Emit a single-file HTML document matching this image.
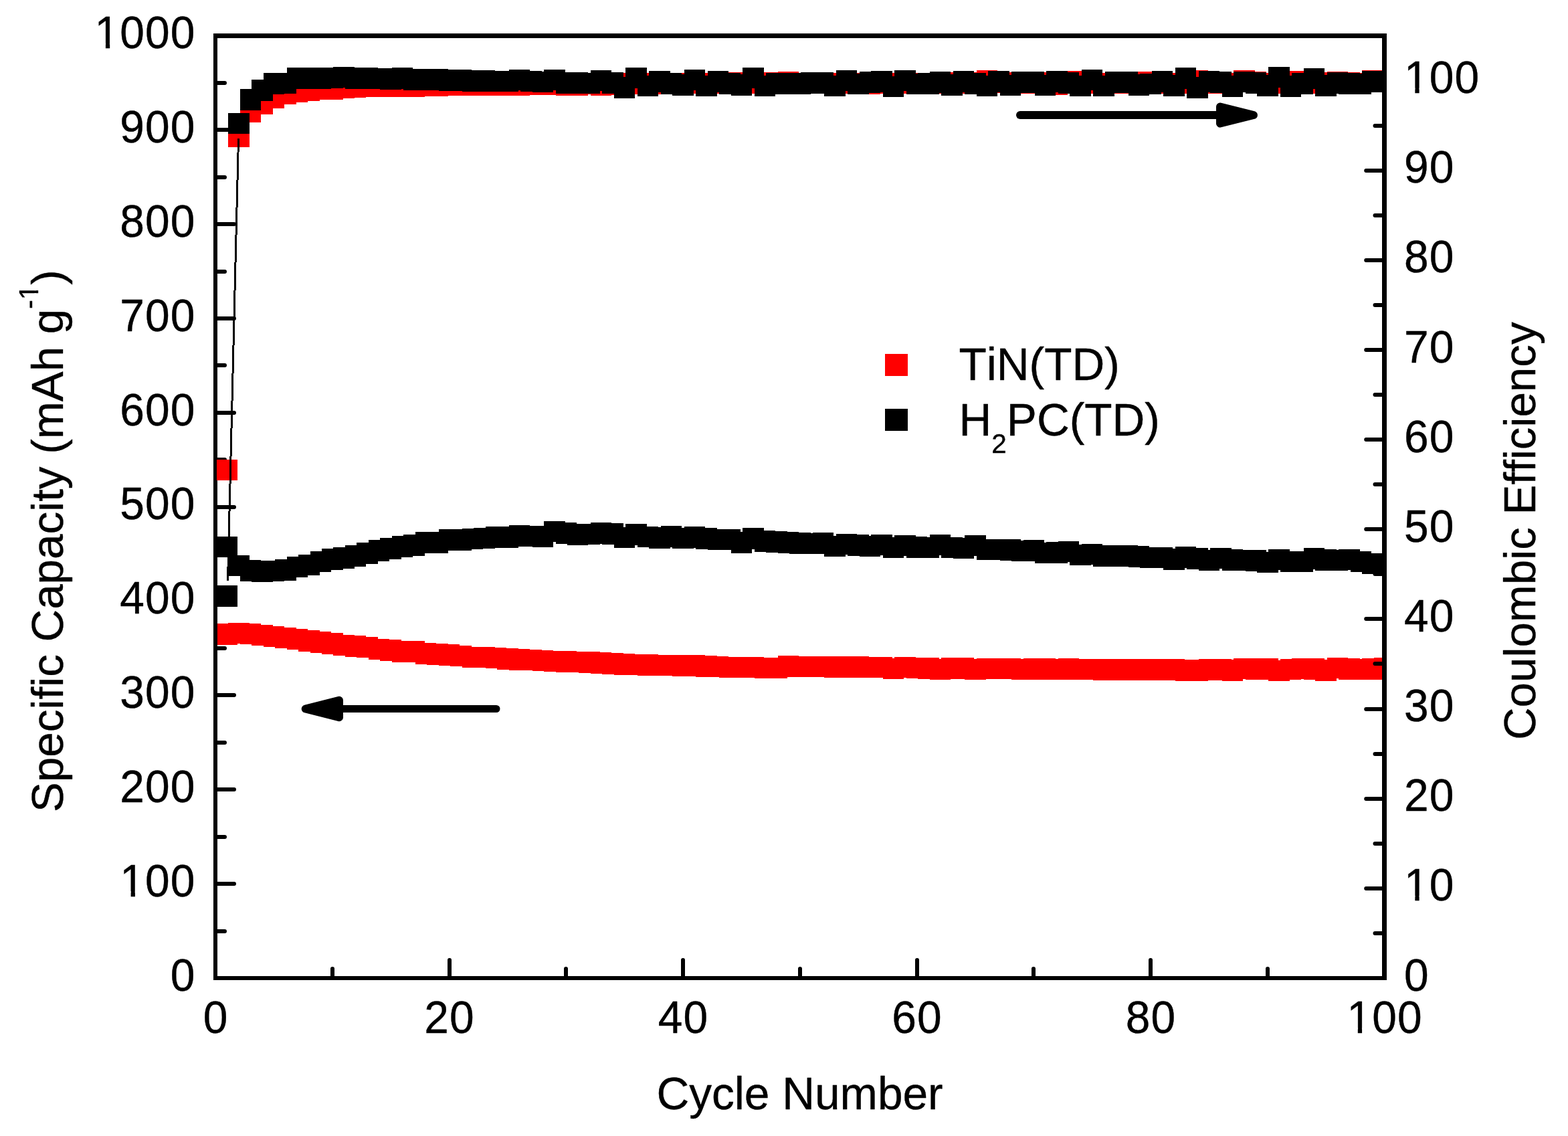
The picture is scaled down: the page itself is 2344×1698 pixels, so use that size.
<!DOCTYPE html>
<html lang="en"><head><meta charset="utf-8"><title>Cycling performance</title>
<style>html,body{margin:0;padding:0;background:#fff}svg{display:block}</style></head>
<body>
<svg width="2344" height="1698" viewBox="0 0 2344 1698" font-family='"Liberation Sans", sans-serif' font-size="67.6" fill="#000" style="font-kerning:none;font-variant-ligatures:none">
<style>text{stroke:#000;stroke-width:0.4px;stroke-linejoin:round}</style>
<rect width="2344" height="1698" fill="#fff"/>
<defs><clipPath id="plot"><rect x="322" y="53.5" width="1747.5" height="1408.5"/></clipPath><clipPath id="plot2"><rect x="319" y="53.5" width="1750.5" height="1408.5"/></clipPath></defs>
<g clip-path="url(#plot)" shape-rendering="crispEdges">
<g fill="#f00"><rect x="323.73" y="932.3" width="31.5" height="31.5"/><rect x="341.2" y="930.71" width="31.5" height="31.5"/><rect x="358.68" y="931.71" width="31.5" height="31.5"/><rect x="376.15" y="933.69" width="31.5" height="31.5"/><rect x="393.62" y="935.67" width="31.5" height="31.5"/><rect x="411.1" y="937.66" width="31.5" height="31.5"/><rect x="428.57" y="939.64" width="31.5" height="31.5"/><rect x="446.05" y="942.22" width="31.5" height="31.5"/><rect x="463.52" y="944.21" width="31.5" height="31.5"/><rect x="481" y="946.19" width="31.5" height="31.5"/><rect x="498.48" y="948.57" width="31.5" height="31.5"/><rect x="515.95" y="950.16" width="31.5" height="31.5"/><rect x="533.42" y="951.55" width="31.5" height="31.5"/><rect x="550.9" y="954.52" width="31.5" height="31.5"/><rect x="568.38" y="956.11" width="31.5" height="31.5"/><rect x="585.85" y="958.49" width="31.5" height="31.5"/><rect x="603.33" y="958.49" width="31.5" height="31.5"/><rect x="620.8" y="961.47" width="31.5" height="31.5"/><rect x="638.27" y="962.46" width="31.5" height="31.5"/><rect x="655.75" y="963.45" width="31.5" height="31.5"/><rect x="673.23" y="964.84" width="31.5" height="31.5"/><rect x="690.7" y="966.83" width="31.5" height="31.5"/><rect x="708.17" y="966.83" width="31.5" height="31.5"/><rect x="725.65" y="967.82" width="31.5" height="31.5"/><rect x="743.12" y="969.4" width="31.5" height="31.5"/><rect x="760.6" y="970" width="31.5" height="31.5"/><rect x="778.08" y="970.99" width="31.5" height="31.5"/><rect x="795.55" y="971.98" width="31.5" height="31.5"/><rect x="813.02" y="972.78" width="31.5" height="31.5"/><rect x="830.5" y="973.37" width="31.5" height="31.5"/><rect x="847.98" y="973.97" width="31.5" height="31.5"/><rect x="865.45" y="974.37" width="31.5" height="31.5"/><rect x="882.92" y="975.36" width="31.5" height="31.5"/><rect x="900.4" y="976.35" width="31.5" height="31.5"/><rect x="917.88" y="977.14" width="31.5" height="31.5"/><rect x="935.35" y="977.74" width="31.5" height="31.5"/><rect x="952.83" y="978.33" width="31.5" height="31.5"/><rect x="970.3" y="978.73" width="31.5" height="31.5"/><rect x="987.77" y="978.73" width="31.5" height="31.5"/><rect x="1005.25" y="979.33" width="31.5" height="31.5"/><rect x="1022.72" y="979.33" width="31.5" height="31.5"/><rect x="1040.2" y="980.32" width="31.5" height="31.5"/><rect x="1057.67" y="980.71" width="31.5" height="31.5"/><rect x="1075.15" y="981.51" width="31.5" height="31.5"/><rect x="1092.62" y="981.9" width="31.5" height="31.5"/><rect x="1110.1" y="981.9" width="31.5" height="31.5"/><rect x="1127.58" y="982.9" width="31.5" height="31.5"/><rect x="1145.05" y="982.7" width="31.5" height="31.5"/><rect x="1162.53" y="980.32" width="31.5" height="31.5"/><rect x="1180" y="980.71" width="31.5" height="31.5"/><rect x="1197.47" y="980.91" width="31.5" height="31.5"/><rect x="1214.95" y="980.91" width="31.5" height="31.5"/><rect x="1232.42" y="981.11" width="31.5" height="31.5"/><rect x="1249.9" y="981.11" width="31.5" height="31.5"/><rect x="1267.38" y="981.31" width="31.5" height="31.5"/><rect x="1284.85" y="981.51" width="31.5" height="31.5"/><rect x="1302.33" y="981.51" width="31.5" height="31.5"/><rect x="1319.8" y="983.89" width="31.5" height="31.5"/><rect x="1337.28" y="981.9" width="31.5" height="31.5"/><rect x="1354.75" y="982.7" width="31.5" height="31.5"/><rect x="1372.22" y="983.29" width="31.5" height="31.5"/><rect x="1389.7" y="984.68" width="31.5" height="31.5"/><rect x="1407.17" y="983.49" width="31.5" height="31.5"/><rect x="1424.65" y="983.49" width="31.5" height="31.5"/><rect x="1442.12" y="984.68" width="31.5" height="31.5"/><rect x="1459.6" y="983.69" width="31.5" height="31.5"/><rect x="1477.08" y="983.89" width="31.5" height="31.5"/><rect x="1494.55" y="983.89" width="31.5" height="31.5"/><rect x="1512.03" y="984.68" width="31.5" height="31.5"/><rect x="1529.5" y="984.09" width="31.5" height="31.5"/><rect x="1546.97" y="984.29" width="31.5" height="31.5"/><rect x="1564.45" y="984.68" width="31.5" height="31.5"/><rect x="1581.92" y="984.48" width="31.5" height="31.5"/><rect x="1599.4" y="984.68" width="31.5" height="31.5"/><rect x="1616.88" y="984.68" width="31.5" height="31.5"/><rect x="1634.35" y="985.08" width="31.5" height="31.5"/><rect x="1651.83" y="985.08" width="31.5" height="31.5"/><rect x="1669.3" y="985.08" width="31.5" height="31.5"/><rect x="1686.78" y="985.08" width="31.5" height="31.5"/><rect x="1704.25" y="985.08" width="31.5" height="31.5"/><rect x="1721.72" y="985.08" width="31.5" height="31.5"/><rect x="1739.2" y="985.08" width="31.5" height="31.5"/><rect x="1756.67" y="986.27" width="31.5" height="31.5"/><rect x="1774.15" y="986.27" width="31.5" height="31.5"/><rect x="1791.62" y="985.28" width="31.5" height="31.5"/><rect x="1809.1" y="985.08" width="31.5" height="31.5"/><rect x="1826.58" y="986.27" width="31.5" height="31.5"/><rect x="1844.05" y="983.89" width="31.5" height="31.5"/><rect x="1861.53" y="984.29" width="31.5" height="31.5"/><rect x="1879" y="984.29" width="31.5" height="31.5"/><rect x="1896.47" y="986.67" width="31.5" height="31.5"/><rect x="1913.95" y="984.88" width="31.5" height="31.5"/><rect x="1931.42" y="983.89" width="31.5" height="31.5"/><rect x="1948.9" y="984.29" width="31.5" height="31.5"/><rect x="1966.38" y="986.27" width="31.5" height="31.5"/><rect x="1983.85" y="982.9" width="31.5" height="31.5"/><rect x="2001.33" y="984.29" width="31.5" height="31.5"/><rect x="2018.8" y="984.68" width="31.5" height="31.5"/><rect x="2036.28" y="984.29" width="31.5" height="31.5"/><rect x="2053.75" y="982.9" width="31.5" height="31.5"/></g>
<g fill="#000"><rect x="323.73" y="801.75" width="31.5" height="31.5"/><rect x="341.2" y="829.92" width="31.5" height="31.5"/><rect x="358.68" y="837.06" width="31.5" height="31.5"/><rect x="376.15" y="838.45" width="31.5" height="31.5"/><rect x="393.62" y="837.86" width="31.5" height="31.5"/><rect x="411.1" y="836.47" width="31.5" height="31.5"/><rect x="428.57" y="831.9" width="31.5" height="31.5"/><rect x="446.05" y="828.93" width="31.5" height="31.5"/><rect x="463.52" y="823.57" width="31.5" height="31.5"/><rect x="481" y="820" width="31.5" height="31.5"/><rect x="498.48" y="818.02" width="31.5" height="31.5"/><rect x="515.95" y="815.24" width="31.5" height="31.5"/><rect x="533.42" y="811.07" width="31.5" height="31.5"/><rect x="550.9" y="807.1" width="31.5" height="31.5"/><rect x="568.38" y="804.13" width="31.5" height="31.5"/><rect x="585.85" y="801.15" width="31.5" height="31.5"/><rect x="603.33" y="799.17" width="31.5" height="31.5"/><rect x="620.8" y="795.2" width="31.5" height="31.5"/><rect x="638.27" y="795.2" width="31.5" height="31.5"/><rect x="655.75" y="791.43" width="31.5" height="31.5"/><rect x="673.23" y="791.43" width="31.5" height="31.5"/><rect x="690.7" y="789.84" width="31.5" height="31.5"/><rect x="708.17" y="788.85" width="31.5" height="31.5"/><rect x="725.65" y="787.26" width="31.5" height="31.5"/><rect x="743.12" y="787.26" width="31.5" height="31.5"/><rect x="760.6" y="785.28" width="31.5" height="31.5"/><rect x="778.08" y="785.87" width="31.5" height="31.5"/><rect x="795.55" y="786.27" width="31.5" height="31.5"/><rect x="813.02" y="778.93" width="31.5" height="31.5"/><rect x="830.5" y="781.31" width="31.5" height="31.5"/><rect x="847.98" y="783.29" width="31.5" height="31.5"/><rect x="865.45" y="782.9" width="31.5" height="31.5"/><rect x="882.92" y="781.31" width="31.5" height="31.5"/><rect x="900.4" y="782.3" width="31.5" height="31.5"/><rect x="917.88" y="787.66" width="31.5" height="31.5"/><rect x="935.35" y="783.29" width="31.5" height="31.5"/><rect x="952.83" y="786.67" width="31.5" height="31.5"/><rect x="970.3" y="788.25" width="31.5" height="31.5"/><rect x="987.77" y="786.27" width="31.5" height="31.5"/><rect x="1005.25" y="788.65" width="31.5" height="31.5"/><rect x="1022.72" y="787.26" width="31.5" height="31.5"/><rect x="1040.2" y="789.25" width="31.5" height="31.5"/><rect x="1057.67" y="790.83" width="31.5" height="31.5"/><rect x="1075.15" y="790.83" width="31.5" height="31.5"/><rect x="1092.62" y="795" width="31.5" height="31.5"/><rect x="1110.1" y="789.25" width="31.5" height="31.5"/><rect x="1127.58" y="793.21" width="31.5" height="31.5"/><rect x="1145.05" y="794.21" width="31.5" height="31.5"/><rect x="1162.53" y="795.2" width="31.5" height="31.5"/><rect x="1180" y="796.19" width="31.5" height="31.5"/><rect x="1197.47" y="796.79" width="31.5" height="31.5"/><rect x="1214.95" y="796.19" width="31.5" height="31.5"/><rect x="1232.42" y="800.56" width="31.5" height="31.5"/><rect x="1249.9" y="797.78" width="31.5" height="31.5"/><rect x="1267.38" y="799.17" width="31.5" height="31.5"/><rect x="1284.85" y="800.56" width="31.5" height="31.5"/><rect x="1302.33" y="798.77" width="31.5" height="31.5"/><rect x="1319.8" y="802.94" width="31.5" height="31.5"/><rect x="1337.28" y="799.76" width="31.5" height="31.5"/><rect x="1354.75" y="802.34" width="31.5" height="31.5"/><rect x="1372.22" y="802.94" width="31.5" height="31.5"/><rect x="1389.7" y="798.77" width="31.5" height="31.5"/><rect x="1407.17" y="802.54" width="31.5" height="31.5"/><rect x="1424.65" y="803.93" width="31.5" height="31.5"/><rect x="1442.12" y="799.76" width="31.5" height="31.5"/><rect x="1459.6" y="805.91" width="31.5" height="31.5"/><rect x="1477.08" y="805.71" width="31.5" height="31.5"/><rect x="1494.55" y="806.11" width="31.5" height="31.5"/><rect x="1512.03" y="807.9" width="31.5" height="31.5"/><rect x="1529.5" y="807.1" width="31.5" height="31.5"/><rect x="1546.97" y="810.87" width="31.5" height="31.5"/><rect x="1564.45" y="810.28" width="31.5" height="31.5"/><rect x="1581.92" y="808.69" width="31.5" height="31.5"/><rect x="1599.4" y="813.85" width="31.5" height="31.5"/><rect x="1616.88" y="812.66" width="31.5" height="31.5"/><rect x="1634.35" y="815.44" width="31.5" height="31.5"/><rect x="1651.83" y="815.24" width="31.5" height="31.5"/><rect x="1669.3" y="815.24" width="31.5" height="31.5"/><rect x="1686.78" y="816.23" width="31.5" height="31.5"/><rect x="1704.25" y="817.62" width="31.5" height="31.5"/><rect x="1721.72" y="817.62" width="31.5" height="31.5"/><rect x="1739.2" y="820.4" width="31.5" height="31.5"/><rect x="1756.67" y="817.02" width="31.5" height="31.5"/><rect x="1774.15" y="819.4" width="31.5" height="31.5"/><rect x="1791.62" y="821.79" width="31.5" height="31.5"/><rect x="1809.1" y="818.61" width="31.5" height="31.5"/><rect x="1826.58" y="821.19" width="31.5" height="31.5"/><rect x="1844.05" y="821.59" width="31.5" height="31.5"/><rect x="1861.53" y="822.18" width="31.5" height="31.5"/><rect x="1879" y="824.76" width="31.5" height="31.5"/><rect x="1896.47" y="820.99" width="31.5" height="31.5"/><rect x="1913.95" y="823.57" width="31.5" height="31.5"/><rect x="1931.42" y="823.57" width="31.5" height="31.5"/><rect x="1948.9" y="819.01" width="31.5" height="31.5"/><rect x="1966.38" y="821.39" width="31.5" height="31.5"/><rect x="1983.85" y="821.98" width="31.5" height="31.5"/><rect x="2001.33" y="820.99" width="31.5" height="31.5"/><rect x="2018.8" y="823.57" width="31.5" height="31.5"/><rect x="2036.28" y="826.75" width="31.5" height="31.5"/><rect x="2053.75" y="826.94" width="31.5" height="31.5"/></g>
</g>
<path d="M322 1392h14M322 1321h28M322 1251h14M322 1180h28M322 1110h14M322 1039h28M322 969h14M322 899h28M322 828h14M322 758h28M322 687h14M322 617h28M322 546h14M322 476h28M322 406h14M322 335h28M322 265h14M322 194h28M322 124h14M497 1462v-14M672 1462v-27M846 1462v-14M1021 1462v-27M1196 1462v-14M1371 1462v-27M1545 1462v-14M1720 1462v-27M1895 1462v-14" stroke="#000" stroke-width="6" fill="none" stroke-linecap="round"/>
<g fill="#000" shape-rendering="crispEdges"><rect x="319" y="50" width="6" height="1415"/><rect x="319" y="50" width="1754" height="7"/><rect x="319" y="1459" width="1754" height="6"/></g>
<g clip-path="url(#plot2)" shape-rendering="crispEdges">
<g fill="#f00"><rect x="323.73" y="686.8" width="31.5" height="31.5"/><rect x="341.2" y="188.02" width="31.5" height="31.5"/><rect x="358.68" y="151.71" width="31.5" height="31.5"/><rect x="376.15" y="139.01" width="31.5" height="31.5"/><rect x="393.62" y="130.87" width="31.5" height="31.5"/><rect x="411.1" y="124.92" width="31.5" height="31.5"/><rect x="428.57" y="121.94" width="31.5" height="31.5"/><rect x="446.05" y="119.96" width="31.5" height="31.5"/><rect x="463.52" y="117.98" width="31.5" height="31.5"/><rect x="481" y="117.98" width="31.5" height="31.5"/><rect x="498.48" y="115.99" width="31.5" height="31.5"/><rect x="515.95" y="114.6" width="31.5" height="31.5"/><rect x="533.42" y="113.61" width="31.5" height="31.5"/><rect x="550.9" y="113.61" width="31.5" height="31.5"/><rect x="568.38" y="113.02" width="31.5" height="31.5"/><rect x="585.85" y="113.02" width="31.5" height="31.5"/><rect x="603.33" y="113.02" width="31.5" height="31.5"/><rect x="620.8" y="112.22" width="31.5" height="31.5"/><rect x="638.27" y="112.22" width="31.5" height="31.5"/><rect x="655.75" y="111.63" width="31.5" height="31.5"/><rect x="673.23" y="111.63" width="31.5" height="31.5"/><rect x="690.7" y="111.63" width="31.5" height="31.5"/><rect x="708.17" y="111.63" width="31.5" height="31.5"/><rect x="725.65" y="111.03" width="31.5" height="31.5"/><rect x="743.12" y="111.03" width="31.5" height="31.5"/><rect x="760.6" y="111.63" width="31.5" height="31.5"/><rect x="778.08" y="110.24" width="31.5" height="31.5"/><rect x="795.55" y="110.24" width="31.5" height="31.5"/><rect x="813.02" y="110.24" width="31.5" height="31.5"/><rect x="830.5" y="111.03" width="31.5" height="31.5"/><rect x="847.98" y="111.03" width="31.5" height="31.5"/><rect x="865.45" y="109.84" width="31.5" height="31.5"/><rect x="882.92" y="111.03" width="31.5" height="31.5"/><rect x="900.4" y="110.63" width="31.5" height="31.5"/><rect x="917.88" y="108.85" width="31.5" height="31.5"/><rect x="935.35" y="109.25" width="31.5" height="31.5"/><rect x="952.83" y="108.85" width="31.5" height="31.5"/><rect x="970.3" y="109.64" width="31.5" height="31.5"/><rect x="987.77" y="109.25" width="31.5" height="31.5"/><rect x="1005.25" y="108.85" width="31.5" height="31.5"/><rect x="1022.72" y="108.85" width="31.5" height="31.5"/><rect x="1040.2" y="108.85" width="31.5" height="31.5"/><rect x="1057.67" y="108.85" width="31.5" height="31.5"/><rect x="1075.15" y="108.25" width="31.5" height="31.5"/><rect x="1092.62" y="108.25" width="31.5" height="31.5"/><rect x="1110.1" y="108.85" width="31.5" height="31.5"/><rect x="1127.58" y="108.25" width="31.5" height="31.5"/><rect x="1145.05" y="108.25" width="31.5" height="31.5"/><rect x="1162.53" y="107.26" width="31.5" height="31.5"/><rect x="1180" y="109.64" width="31.5" height="31.5"/><rect x="1197.47" y="108.85" width="31.5" height="31.5"/><rect x="1214.95" y="108.85" width="31.5" height="31.5"/><rect x="1232.42" y="108.85" width="31.5" height="31.5"/><rect x="1249.9" y="108.85" width="31.5" height="31.5"/><rect x="1267.38" y="108.85" width="31.5" height="31.5"/><rect x="1284.85" y="109.64" width="31.5" height="31.5"/><rect x="1302.33" y="108.85" width="31.5" height="31.5"/><rect x="1319.8" y="108.85" width="31.5" height="31.5"/><rect x="1337.28" y="108.85" width="31.5" height="31.5"/><rect x="1354.75" y="108.85" width="31.5" height="31.5"/><rect x="1372.22" y="108.85" width="31.5" height="31.5"/><rect x="1389.7" y="108.85" width="31.5" height="31.5"/><rect x="1407.17" y="108.25" width="31.5" height="31.5"/><rect x="1424.65" y="108.25" width="31.5" height="31.5"/><rect x="1442.12" y="108.25" width="31.5" height="31.5"/><rect x="1459.6" y="105.28" width="31.5" height="31.5"/><rect x="1477.08" y="107.86" width="31.5" height="31.5"/><rect x="1494.55" y="108.25" width="31.5" height="31.5"/><rect x="1512.03" y="108.25" width="31.5" height="31.5"/><rect x="1529.5" y="108.25" width="31.5" height="31.5"/><rect x="1546.97" y="108.25" width="31.5" height="31.5"/><rect x="1564.45" y="110.63" width="31.5" height="31.5"/><rect x="1581.92" y="106.27" width="31.5" height="31.5"/><rect x="1599.4" y="106.27" width="31.5" height="31.5"/><rect x="1616.88" y="108.25" width="31.5" height="31.5"/><rect x="1634.35" y="108.65" width="31.5" height="31.5"/><rect x="1651.83" y="108.65" width="31.5" height="31.5"/><rect x="1669.3" y="108.25" width="31.5" height="31.5"/><rect x="1686.78" y="107.26" width="31.5" height="31.5"/><rect x="1704.25" y="107.26" width="31.5" height="31.5"/><rect x="1721.72" y="108.25" width="31.5" height="31.5"/><rect x="1739.2" y="108.65" width="31.5" height="31.5"/><rect x="1756.67" y="108.65" width="31.5" height="31.5"/><rect x="1774.15" y="105.28" width="31.5" height="31.5"/><rect x="1791.62" y="108.65" width="31.5" height="31.5"/><rect x="1809.1" y="108.65" width="31.5" height="31.5"/><rect x="1826.58" y="109.25" width="31.5" height="31.5"/><rect x="1844.05" y="105.28" width="31.5" height="31.5"/><rect x="1861.53" y="107.26" width="31.5" height="31.5"/><rect x="1879" y="109.25" width="31.5" height="31.5"/><rect x="1896.47" y="108.65" width="31.5" height="31.5"/><rect x="1913.95" y="106.27" width="31.5" height="31.5"/><rect x="1931.42" y="106.27" width="31.5" height="31.5"/><rect x="1948.9" y="108.25" width="31.5" height="31.5"/><rect x="1966.38" y="108.25" width="31.5" height="31.5"/><rect x="1983.85" y="107.26" width="31.5" height="31.5"/><rect x="2001.33" y="108.25" width="31.5" height="31.5"/><rect x="2018.8" y="108.65" width="31.5" height="31.5"/><rect x="2036.28" y="104.88" width="31.5" height="31.5"/><rect x="2053.75" y="104.88" width="31.5" height="31.5"/></g>
<line x1="340.5" y1="868" x2="356.5" y2="207" stroke="#000" stroke-width="3"/>
<g fill="#000"><rect x="323.73" y="875" width="31.5" height="31.5"/><rect x="341.2" y="168.97" width="31.5" height="31.5"/><rect x="358.68" y="133.06" width="31.5" height="31.5"/><rect x="376.15" y="119.17" width="31.5" height="31.5"/><rect x="393.62" y="109.25" width="31.5" height="31.5"/><rect x="411.1" y="108.85" width="31.5" height="31.5"/><rect x="428.57" y="101.31" width="31.5" height="31.5"/><rect x="446.05" y="101.31" width="31.5" height="31.5"/><rect x="463.52" y="101.31" width="31.5" height="31.5"/><rect x="481" y="100.91" width="31.5" height="31.5"/><rect x="498.48" y="99.92" width="31.5" height="31.5"/><rect x="515.95" y="101.31" width="31.5" height="31.5"/><rect x="533.42" y="101.31" width="31.5" height="31.5"/><rect x="550.9" y="101.9" width="31.5" height="31.5"/><rect x="568.38" y="102.3" width="31.5" height="31.5"/><rect x="585.85" y="101.31" width="31.5" height="31.5"/><rect x="603.33" y="103.29" width="31.5" height="31.5"/><rect x="620.8" y="103.29" width="31.5" height="31.5"/><rect x="638.27" y="103.29" width="31.5" height="31.5"/><rect x="655.75" y="104.29" width="31.5" height="31.5"/><rect x="673.23" y="104.29" width="31.5" height="31.5"/><rect x="690.7" y="105.28" width="31.5" height="31.5"/><rect x="708.17" y="105.28" width="31.5" height="31.5"/><rect x="725.65" y="105.87" width="31.5" height="31.5"/><rect x="743.12" y="105.87" width="31.5" height="31.5"/><rect x="760.6" y="103.89" width="31.5" height="31.5"/><rect x="778.08" y="105.87" width="31.5" height="31.5"/><rect x="795.55" y="106.87" width="31.5" height="31.5"/><rect x="813.02" y="103.89" width="31.5" height="31.5"/><rect x="830.5" y="108.25" width="31.5" height="31.5"/><rect x="847.98" y="108.25" width="31.5" height="31.5"/><rect x="865.45" y="108.85" width="31.5" height="31.5"/><rect x="882.92" y="104.88" width="31.5" height="31.5"/><rect x="900.4" y="108.25" width="31.5" height="31.5"/><rect x="917.88" y="115" width="31.5" height="31.5"/><rect x="935.35" y="100.91" width="31.5" height="31.5"/><rect x="952.83" y="112.62" width="31.5" height="31.5"/><rect x="970.3" y="106.27" width="31.5" height="31.5"/><rect x="987.77" y="109.25" width="31.5" height="31.5"/><rect x="1005.25" y="111.03" width="31.5" height="31.5"/><rect x="1022.72" y="103.89" width="31.5" height="31.5"/><rect x="1040.2" y="112.62" width="31.5" height="31.5"/><rect x="1057.67" y="106.27" width="31.5" height="31.5"/><rect x="1075.15" y="109.25" width="31.5" height="31.5"/><rect x="1092.62" y="111.03" width="31.5" height="31.5"/><rect x="1110.1" y="100.91" width="31.5" height="31.5"/><rect x="1127.58" y="112.62" width="31.5" height="31.5"/><rect x="1145.05" y="109.25" width="31.5" height="31.5"/><rect x="1162.53" y="109.25" width="31.5" height="31.5"/><rect x="1180" y="109.25" width="31.5" height="31.5"/><rect x="1197.47" y="108.25" width="31.5" height="31.5"/><rect x="1214.95" y="108.25" width="31.5" height="31.5"/><rect x="1232.42" y="112.62" width="31.5" height="31.5"/><rect x="1249.9" y="104.88" width="31.5" height="31.5"/><rect x="1267.38" y="109.64" width="31.5" height="31.5"/><rect x="1284.85" y="107.46" width="31.5" height="31.5"/><rect x="1302.33" y="106.27" width="31.5" height="31.5"/><rect x="1319.8" y="113.61" width="31.5" height="31.5"/><rect x="1337.28" y="104.88" width="31.5" height="31.5"/><rect x="1354.75" y="109.64" width="31.5" height="31.5"/><rect x="1372.22" y="109.44" width="31.5" height="31.5"/><rect x="1389.7" y="107.26" width="31.5" height="31.5"/><rect x="1407.17" y="111.03" width="31.5" height="31.5"/><rect x="1424.65" y="106.27" width="31.5" height="31.5"/><rect x="1442.12" y="109.44" width="31.5" height="31.5"/><rect x="1459.6" y="112.62" width="31.5" height="31.5"/><rect x="1477.08" y="106.27" width="31.5" height="31.5"/><rect x="1494.55" y="111.63" width="31.5" height="31.5"/><rect x="1512.03" y="107.26" width="31.5" height="31.5"/><rect x="1529.5" y="107.26" width="31.5" height="31.5"/><rect x="1546.97" y="111.63" width="31.5" height="31.5"/><rect x="1564.45" y="106.27" width="31.5" height="31.5"/><rect x="1581.92" y="108.25" width="31.5" height="31.5"/><rect x="1599.4" y="112.62" width="31.5" height="31.5"/><rect x="1616.88" y="103.89" width="31.5" height="31.5"/><rect x="1634.35" y="112.62" width="31.5" height="31.5"/><rect x="1651.83" y="107.26" width="31.5" height="31.5"/><rect x="1669.3" y="107.26" width="31.5" height="31.5"/><rect x="1686.78" y="111.03" width="31.5" height="31.5"/><rect x="1704.25" y="109.64" width="31.5" height="31.5"/><rect x="1721.72" y="106.27" width="31.5" height="31.5"/><rect x="1739.2" y="112.02" width="31.5" height="31.5"/><rect x="1756.67" y="101.31" width="31.5" height="31.5"/><rect x="1774.15" y="115" width="31.5" height="31.5"/><rect x="1791.62" y="106.27" width="31.5" height="31.5"/><rect x="1809.1" y="107.26" width="31.5" height="31.5"/><rect x="1826.58" y="113.02" width="31.5" height="31.5"/><rect x="1844.05" y="106.67" width="31.5" height="31.5"/><rect x="1861.53" y="108.25" width="31.5" height="31.5"/><rect x="1879" y="112.02" width="31.5" height="31.5"/><rect x="1896.47" y="99.92" width="31.5" height="31.5"/><rect x="1913.95" y="113.02" width="31.5" height="31.5"/><rect x="1931.42" y="109.25" width="31.5" height="31.5"/><rect x="1948.9" y="101.9" width="31.5" height="31.5"/><rect x="1966.38" y="112.02" width="31.5" height="31.5"/><rect x="1983.85" y="108.25" width="31.5" height="31.5"/><rect x="2001.33" y="109.25" width="31.5" height="31.5"/><rect x="2018.8" y="109.84" width="31.5" height="31.5"/><rect x="2036.28" y="106.27" width="31.5" height="31.5"/><rect x="2053.75" y="106.87" width="31.5" height="31.5"/></g>
</g>
<path d="M2069.5 1395h-14M2069.5 1328h-27.3M2069.5 1261h-14M2069.5 1194h-27.3M2069.5 1127h-14M2069.5 1060h-27.3M2069.5 992h-14M2069.5 925h-27.3M2069.5 858h-14M2069.5 791h-27.3M2069.5 724h-14M2069.5 657h-27.3M2069.5 590h-14M2069.5 523h-27.3M2069.5 456h-14M2069.5 389h-27.3M2069.5 322h-14M2069.5 255h-27.3M2069.5 188h-14M2069.5 121h-27.3" stroke="#000" stroke-width="6" fill="none" stroke-linecap="round"/>
<rect x="2066" y="50" width="7" height="1415" fill="#000" shape-rendering="crispEdges"/>
<g letter-spacing="1.1">
<text transform="translate(254.74 1480.6) scale(0.975 1.015)">0</text>
<text transform="translate(179.29 1339.75) scale(0.975 1.015)">100</text>
<text transform="translate(179.29 1198.9) scale(0.975 1.015)">200</text>
<text transform="translate(179.29 1058.05) scale(0.975 1.015)">300</text>
<text transform="translate(179.29 917.2) scale(0.975 1.015)">400</text>
<text transform="translate(179.29 776.35) scale(0.975 1.015)">500</text>
<text transform="translate(179.29 635.5) scale(0.975 1.015)">600</text>
<text transform="translate(179.29 494.65) scale(0.975 1.015)">700</text>
<text transform="translate(179.29 353.8) scale(0.975 1.015)">800</text>
<text transform="translate(179.29 212.95) scale(0.975 1.015)">900</text>
<text transform="translate(141.56 72.1) scale(0.975 1.015)">1000</text>
<text transform="translate(2099 1480.6) scale(0.975 1.015)">0</text>
<text transform="translate(2099 1346.46) scale(0.975 1.015)">10</text>
<text transform="translate(2099 1212.31) scale(0.975 1.015)">20</text>
<text transform="translate(2099 1078.17) scale(0.975 1.015)">30</text>
<text transform="translate(2099 944.03) scale(0.975 1.015)">40</text>
<text transform="translate(2099 809.89) scale(0.975 1.015)">50</text>
<text transform="translate(2099 675.74) scale(0.975 1.015)">60</text>
<text transform="translate(2099 541.6) scale(0.975 1.015)">70</text>
<text transform="translate(2099 407.46) scale(0.975 1.015)">80</text>
<text transform="translate(2099 273.31) scale(0.975 1.015)">90</text>
<text transform="translate(2099 139.17) scale(0.975 1.015)">100</text>
<text transform="translate(303.67 1543.9) scale(0.975 1.015)">0</text>
<text transform="translate(634.31 1543.9) scale(0.975 1.015)">20</text>
<text transform="translate(983.81 1543.9) scale(0.975 1.015)">40</text>
<text transform="translate(1333.31 1543.9) scale(0.975 1.015)">60</text>
<text transform="translate(1682.81 1543.9) scale(0.975 1.015)">80</text>
<text transform="translate(2013.44 1543.9) scale(0.975 1.015)">100</text>
</g>
<text x="1195.5" y="1658" text-anchor="middle">Cycle Number</text>
<text transform="translate(94 1214) rotate(-90)" font-size="67.35">Specific Capacity (mAh g<tspan dy="-37" font-size="40.5">-1</tspan><tspan dy="37">)</tspan></text>
<text transform="translate(2295 1106) rotate(-90)" font-size="67.3">Coulombic Efficiency</text>
<g fill="#fff"><rect x="183.14" y="1332.09" width="12.48" height="9.66"/><rect x="201.93" y="1332.09" width="11.97" height="9.66"/><rect x="145.41" y="64.44" width="12.48" height="9.66"/><rect x="164.2" y="64.44" width="11.97" height="9.66"/><rect x="2102.85" y="1338.79" width="12.48" height="9.66"/><rect x="2121.64" y="1338.79" width="11.97" height="9.66"/><rect x="2102.85" y="131.51" width="12.48" height="9.66"/><rect x="2121.64" y="131.51" width="11.97" height="9.66"/><rect x="2017.3" y="1536.24" width="12.48" height="9.66"/><rect x="2036.08" y="1536.24" width="11.97" height="9.66"/><g transform="translate(94 1214) rotate(-90)"><rect x="767.73" y="-42.53" width="8.05" height="7.53"/><rect x="779.86" y="-42.53" width="7.73" height="7.53"/></g></g>
<rect x="1323" y="529" width="34" height="33" fill="#f00" shape-rendering="crispEdges"/>
<rect x="1323" y="611" width="34" height="33" fill="#000" shape-rendering="crispEdges"/>
<text x="1433.5" y="568">TiN(TD)</text>
<text x="1433.5" y="651">H<tspan dy="26" font-size="40.5">2</tspan><tspan dy="-26">PC(TD)</tspan></text>
<g stroke="#000" stroke-width="12" stroke-linecap="round" stroke-linejoin="round" fill="#000">
<path d="M1525 172H1824"/><path d="M1824 159.5L1874 172L1824 184.5Z"/>
<path d="M742 1059.5H507" stroke-width="11"/><path d="M507 1046.8L456.7 1059.5L507 1072.2Z"/>
</g>
</svg>
</body></html>
